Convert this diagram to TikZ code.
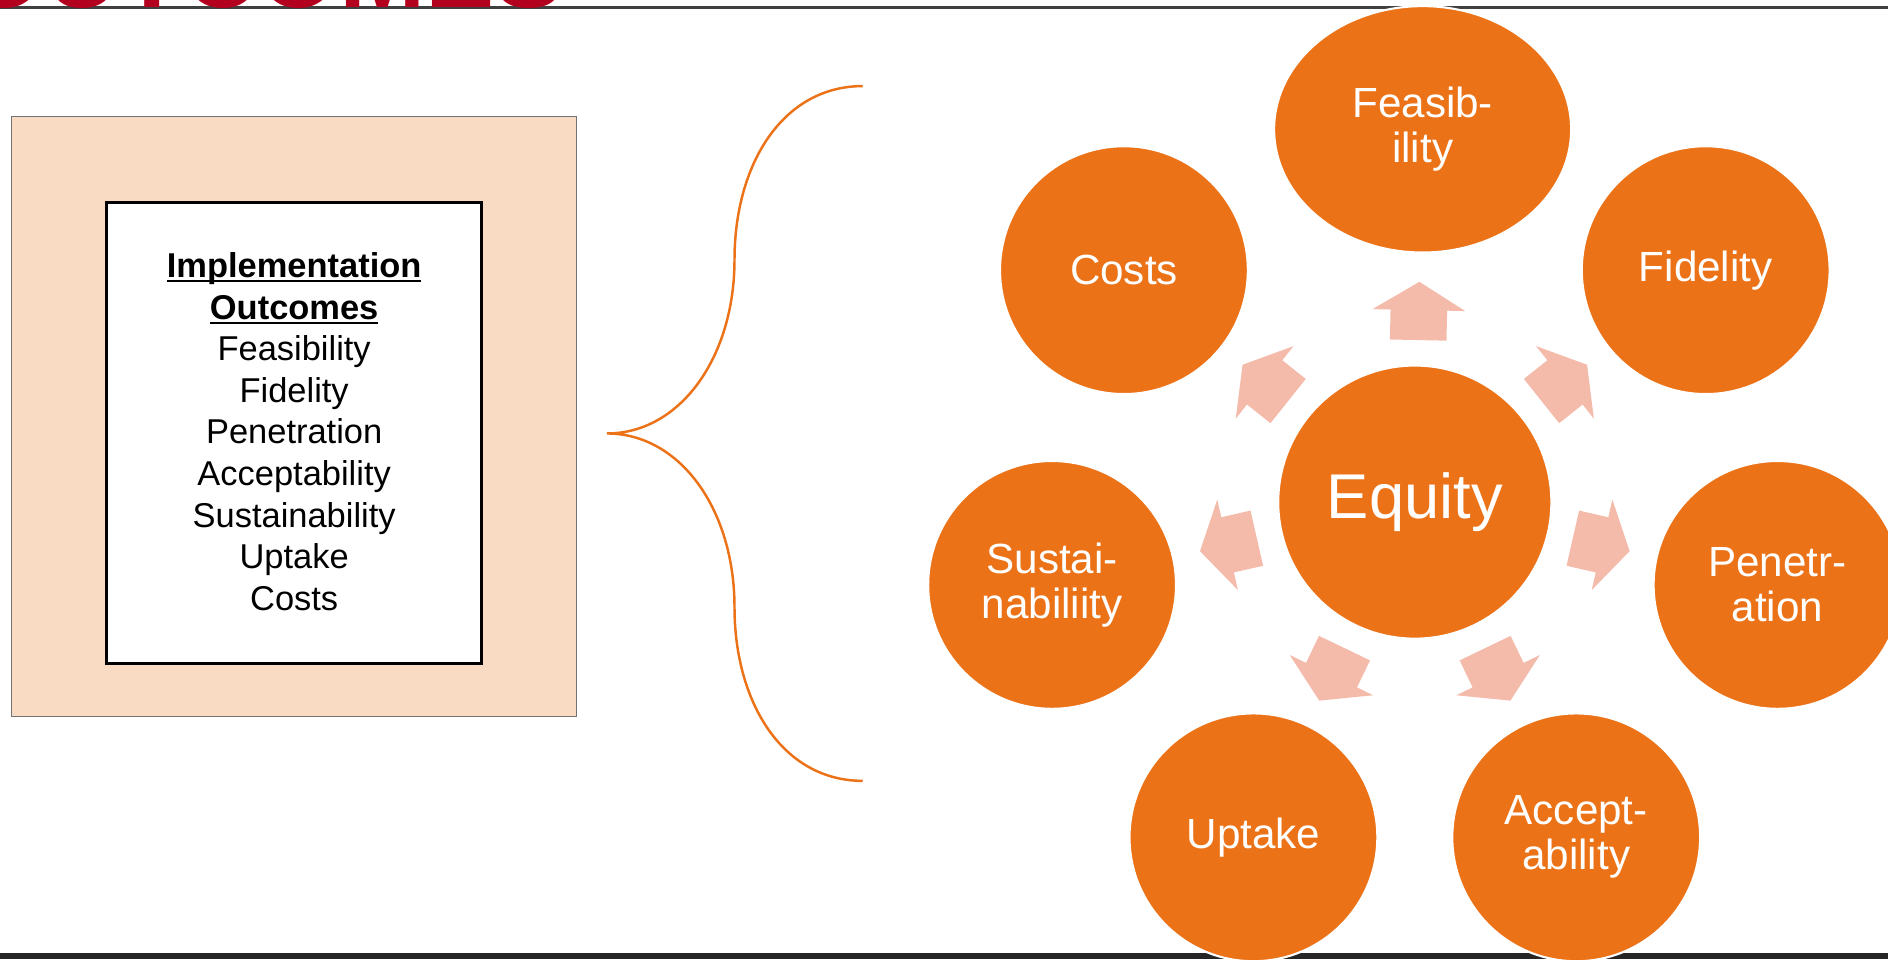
\documentclass[tikz,border=0pt]{standalone}
\usepackage{fontspec}
\setmainfont{Liberation Sans}
\usetikzlibrary{calc,shapes.geometric}
\definecolor{outorange}{RGB}{236,114,24}
\definecolor{outpeach}{RGB}{249,219,196}
\definecolor{outpink}{RGB}{244,187,170}
\definecolor{outred}{RGB}{178,0,30}
\definecolor{outbar}{RGB}{38,38,38}
\newcommand\ulword[1]{\setbox0\hbox{#1}\rlap{\rule[-1.3pt]{\wd0}{0.55pt}}\box0}

\begin{document}
\begin{tikzpicture}[x=0.012041cm,y=0.012041cm,
    outcome/.style={circle,fill=outorange,draw=white,line width=0.6pt,minimum size=70.5pt,inner sep=0pt,text=white,align=center,font=\fontsize{12}{12.8}\selectfont}]
\useasboundingbox (0,0) rectangle (1568,796.5);
\clip (0,0) rectangle (1568,796.5);
% header rule, title and footer bar
\draw[black!75,line width=0.86pt] (0,790.3) -- (1568,790.3);
\node[anchor=base east,inner sep=0pt,text=outred,font=\fontsize{29.5}{30}\selectfont\bfseries] (title) at (469,790.4) {OUTCOMES};
\fill[outbar] (0,0) rectangle (1568,5.2);
% left box
\draw[black!55,line width=0.4pt,fill=outpeach] (9.7,201.3) rectangle (479,699.6);
\draw[line width=0.8pt,fill=white] (88.6,245.5) rectangle (400,628.5);
\node[align=center,inner sep=0pt,font=\fontsize{9.8}{11.82}\selectfont] (list) at (244.3,438) {\textbf{\ulword{Implementation}}\\\textbf{\ulword{Outcomes}}\\Feasibility\\Fidelity\\Penetration\\Acceptability\\Sustainability\\Uptake\\Costs};
% brace
\coordinate (tip) at (504,436.5);
\draw[outorange,line width=0.7pt] (716.5,725) .. controls (650,725) and (610,660) .. (610,580.75)
      .. controls (610,500) and (565,436.5) .. (tip)
      .. controls (565,436.5) and (610,373) .. (610,292.25)
      .. controls (610,213) and (650,148) .. (716.5,148);
% outcomes round equity
\node[outcome,minimum size=77.7pt,font=\fontsize{18}{20}\selectfont] (eq) at (1175,379.5) {Equity};
\node[outcome,ellipse,minimum width=84.5pt,minimum height=70.1pt] (fea) at ($(eq)+(6.5,309.6)$) {Feasib-\\ility};
\foreach \ang/\nm/\txt in {38.57/fid/Fidelity,-12.86/pen/{Penetr-\\ation},-64.29/acc/{Accept-\\ability},-115.71/upt/Uptake,-167.14/sus/{Sustai-\\nabiliity},141.43/cos/Costs}
  \node[outcome] (\nm) at ($(eq)+(\ang:309)$) {\txt};
\foreach \ang in {88.8,38.57,-12.86,-64.29,-115.71,-167.14,141.43}
  \fill[outpink,shift={(eq)},rotate=\ang] (134.6,-23.5) -- (159.5,-23.5) -- (159.5,-38.5) -- (183,0) -- (159.5,38.5) -- (159.5,23.5) -- (134.6,23.5) -- cycle;
\end{tikzpicture}
\end{document}
